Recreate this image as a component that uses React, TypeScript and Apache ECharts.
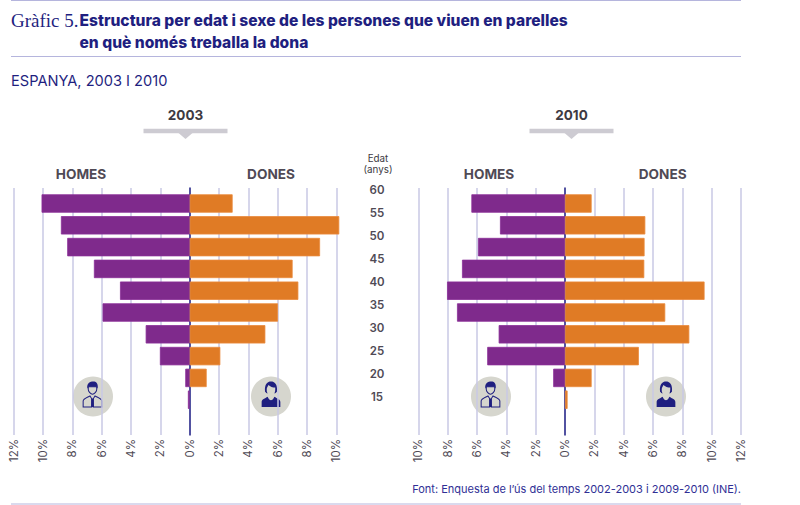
import React, { useEffect, useRef } from "react";
import * as echarts from "echarts";

const ages = ["60", "55", "50", "45", "40", "35", "30", "25", "20", "15"];
const men2003 = [10.1, 8.78, 8.35, 6.53, 4.75, 5.94, 3.0, 2.03, 0.3, 0.12];
const women2003 = [2.93, 10.2, 8.89, 7.02, 7.41, 6.02, 5.16, 2.09, 1.16, 0];
const men2010 = [6.38, 4.43, 5.93, 7.02, 8.04, 7.36, 4.52, 5.3, 0.8, 0];
const women2010 = [1.82, 5.48, 5.43, 5.41, 9.52, 6.84, 8.48, 5.04, 1.82, 0.18];

const NAVY = "#1f1f80";
const GREY = "#4f4a55";
const BADGE = "#d6d6ce";
const FONT = "Inter, 'Liberation Sans', sans-serif";

const maleOutline =
  "M-5-11L-5-8C-5-5-2-2 0-2S5-5 5-8L5-11ZM-11 13L-11 6C-11 3-7 2-3 0L-1 3-1 13ZM1 13L1 3 3 0C7 2 11 3 11 6L11 13Z";
const maleFill =
  "M-6-9C-7-15-3-17 1-17 4-17 7-15 6-9L5-9 5-11C2-11-2-11-5-11L-5-9ZM-1 3L1 3 1.6 13-1.6 13Z";
const femaleHair =
  "M-7-5C-8-14-4-17 0-17S8-14 7-5C6-4 5-3 4-3 5-5 5-8 5-10 2-10-1-11-3-13-4-11-5-10-5-8-5-6-5-5-4-3-5-3-6-4-7-5Z";
const femaleBody =
  "M-11 13L-11 7C-11 4-7 3-4 1-3 4-1 5 0 5S3 4 4 1C7 3 11 4 11 7L11 13Z";
echarts.graphic.registerShape("maleOutline", echarts.graphic.extendPath(maleOutline, {}));
echarts.graphic.registerShape("maleFill", echarts.graphic.extendPath(maleFill, {}));
echarts.graphic.registerShape("femaleHair", echarts.graphic.extendPath(femaleHair, {}));
echarts.graphic.registerShape("femaleBody", echarts.graphic.extendPath(femaleBody, {}));

function txt(x: number, y: number, text: string, font: string, fill: string, align = "center") {
  return { type: "text", x, y, style: { text, font, fill, align, verticalAlign: "middle" } };
}
function rule(x1: number, x2: number, y: number) {
  return { type: "line", shape: { x1, y1: y, x2, y2: y }, style: { stroke: "#b5b5dd", lineWidth: 1 } };
}
function icon(x: number, type: string, style: object) {
  return { type, x, y: 396, scaleX: 0.85, scaleY: 0.85, style };
}
function maleBadge(x: number) {
  return [
    { type: "circle", shape: { cx: x, cy: 396.5, r: 20 }, style: { fill: BADGE } },
    icon(x - 0.5, "maleOutline", { fill: BADGE, stroke: NAVY, lineWidth: 1.2 }),
    icon(x - 0.5, "maleFill", { fill: NAVY }),
  ];
}
function femaleBadge(x: number) {
  return [
    { type: "circle", shape: { cx: x, cy: 396.5, r: 20 }, style: { fill: BADGE } },
    icon(x, "femaleHair", { fill: NAVY }),
    icon(x, "femaleBody", { fill: NAVY }),
  ];
}
function pointer(x: number) {
  return [
    { type: "rect", shape: { x: x - 42, y: 128.7, width: 84, height: 4.5 }, style: { fill: "#cdcbd2" } },
    { type: "polygon", shape: { points: [[x - 7, 133], [x + 7, 133], [x, 139]] }, style: { fill: "#cdcbd2" } },
  ];
}

const TICK_INTERVAL = 2;
function panel(idx: number, left: number, min: number, max: number, men: number[], women: number[]) {
  const unit = 14.665;
  const width = (max - min) * unit;
  const grids = [
    { left, width, top: 188, height: 247 },
    { left, width, top: 192.6, height: 218 },
  ];
  const xBase = {
    type: "value",
    min,
    max,
    interval: TICK_INTERVAL,
    axisTick: { show: false },
    axisLine: { show: false },
  };
  const xAxes = [
    {
      ...xBase,
      gridIndex: idx * 2,
      splitLine: { show: true, lineStyle: { color: "#c9c8e4", width: 1.5 } },
      axisLabel: {
        show: true,
        rotate: 90,
        margin: 4,
        fontSize: 11.5,
        fontFamily: FONT,
        color: GREY,
        formatter: (v: number) => Math.abs(v) + "%",
      },
    },
    { ...xBase, gridIndex: idx * 2 + 1, splitLine: { show: false }, axisLabel: { show: false } },
  ];
  const yAxes = [
    {
      type: "category",
      gridIndex: idx * 2,
      data: [""],
      inverse: true,
      axisTick: { show: false },
      axisLabel: { show: false },
      axisLine: { show: true, onZero: true, lineStyle: { color: "#262688", width: 1.5 } },
    },
    {
      type: "category",
      gridIndex: idx * 2 + 1,
      data: ages,
      inverse: true,
      axisTick: { show: false },
      axisLabel: { show: false },
      axisLine: { show: false },
    },
  ];
  const bar = (name: string, data: (number | null)[], color: string, border: string) => ({
    type: "bar",
    name,
    xAxisIndex: idx * 2 + 1,
    yAxisIndex: idx * 2 + 1,
    data,
    stack: "p" + idx,
    barWidth: 18.4,
    clip: false,
    itemStyle: { color, borderColor: border, borderWidth: 0.8 },
  });
  return {
    grids,
    xAxes,
    yAxes,
    series: [
      bar("Homes", men.map((v) => (v > 0 ? -v : null)), "#7f2a8c", "#8a2f98"),
      bar("Dones", women.map((v) => (v > 0 ? v : null)), "#e07b25", "#ea8a3c"),
    ],
  };
}

export default function App() {
  const ref = useRef<HTMLDivElement>(null);
  useEffect(() => {
    const chart = echarts.init(ref.current!, undefined, { renderer: "svg", width: 800, height: 505 });
    const a = panel(0, 13.7, -12, 10, men2003, women2003);
    const b = panel(1, 418.3, -10, 12, men2010, women2010);
    chart.setOption({
      animation: false,
      backgroundColor: "#ffffff",
      grid: [...a.grids, ...b.grids, { left: 377, width: 1, top: 178, height: 230 }],
      xAxis: [...a.xAxes, ...b.xAxes, { type: "value", gridIndex: 4, show: false }],
      yAxis: [
        ...a.yAxes,
        ...b.yAxes,
        {
          type: "category",
          gridIndex: 4,
          data: ages,
          inverse: true,
          axisTick: { show: false },
          axisLine: { show: false },
          axisLabel: {
            align: "center",
            margin: 0,
            fontSize: 11.5,
            fontWeight: 600,
            fontFamily: FONT,
            color: GREY,
          },
        },
      ],
      series: [...a.series, ...b.series],
      graphic: [
        rule(11, 741, 0.5),
        rule(11, 741, 56.5),
        rule(11, 741, 504),
        txt(11, 20, "Gràfic 5.", "19px 'Liberation Serif', serif", NAVY, "left"),
        txt(79.5, 20, "Estructura per edat i sexe de les persones que viuen en parelles", `800 15.6px ${FONT}`, NAVY, "left"),
        txt(79.5, 42, "en què només treballa la dona", `800 15.6px ${FONT}`, NAVY, "left"),
        txt(11, 81, "ESPANYA, 2003 I 2010", `14.6px ${FONT}`, NAVY, "left"),
        txt(185.5, 114.5, "2003", `bold 13.5px ${FONT}`, "#3d3a42"),
        txt(571.5, 114.5, "2010", `bold 13.5px ${FONT}`, "#3d3a42"),
        ...pointer(185.5),
        ...pointer(571.5),
        txt(81, 174, "HOMES", `bold 13.6px ${FONT}`, GREY),
        txt(271, 174, "DONES", `bold 13.6px ${FONT}`, GREY),
        txt(489, 174, "HOMES", `bold 13.6px ${FONT}`, GREY),
        txt(662.7, 174, "DONES", `bold 13.6px ${FONT}`, GREY),
        txt(378, 158, "Edat", `9.8px ${FONT}`, "#3d3a42"),
        txt(378, 169.5, "(anys)", `9.8px ${FONT}`, "#3d3a42"),
        txt(741, 488.5, "Font: Enquesta de l’ús del temps 2002-2003 i 2009-2010 (INE).", `11px ${FONT}`, "#2f2f95", "right"),
        ...maleBadge(93),
        ...femaleBadge(271),
        ...maleBadge(491),
        ...femaleBadge(666),
      ],
    });
    return () => chart.dispose();
  }, []);
  return <div ref={ref} style={{ position: "fixed", left: 0, top: 0, width: 800, height: 505 }} />;
}
